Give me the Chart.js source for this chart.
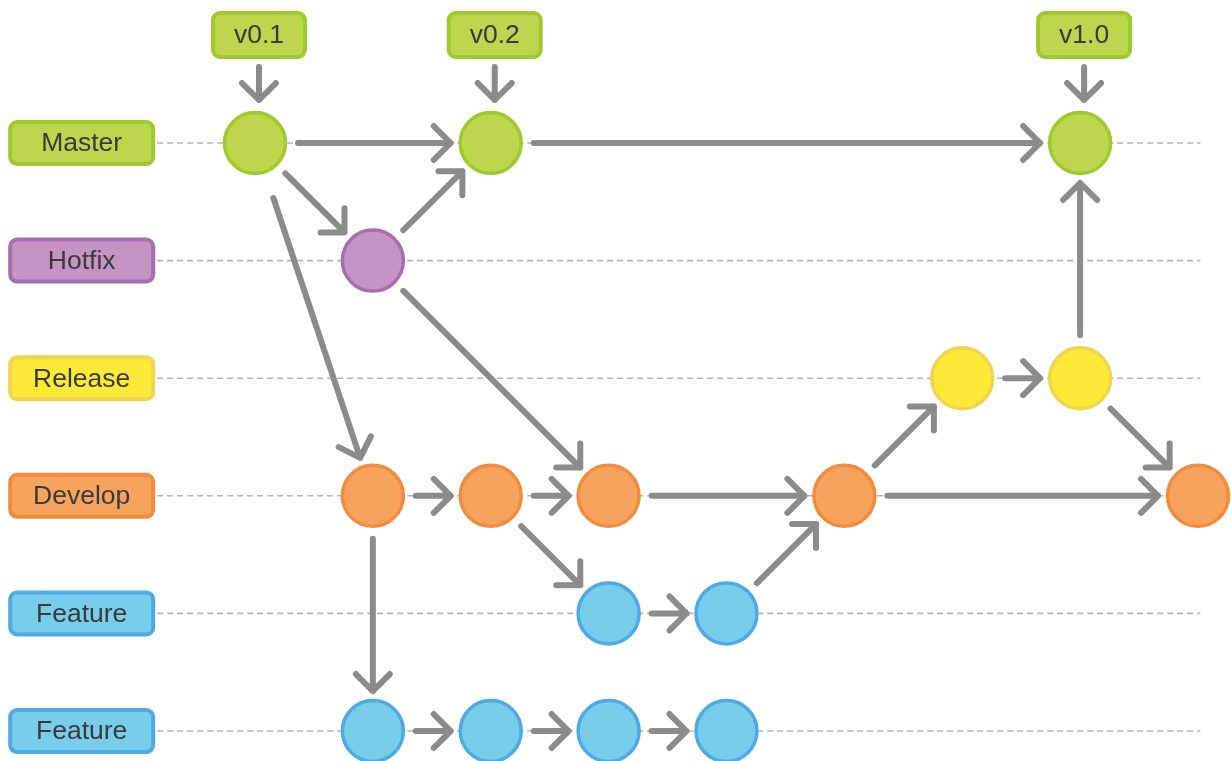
<!DOCTYPE html>
<html>
<head>
<meta charset="utf-8">
<script src="https://cdn.jsdelivr.net/npm/chart.js@4/dist/chart.umd.min.js"></script>
<style>
  html, body { margin: 0; padding: 0; background: #fff; }
  #wrap { width: 1231px; height: 761px; position: relative; }
</style>
</head>
<body>
<div id="wrap"><canvas id="canvas"></canvas></div>
<script>
// branches, one row each (top to bottom)
const branchNames = ['Master', 'Hotfix', 'Release', 'Develop', 'Feature', 'Feature'];
const branchFill = ['#bdd64e', '#c594c5', '#fcea36', '#f7a35d', '#77cdea', '#77cdea'];
const branchBorder = ['#9fc92d', '#a96cae', '#efd552', '#f38b3e', '#4eaae4', '#4eaae4'];

// commit columns per branch
const masterCommits = [0, 2, 7];
const hotfixCommits = [1];
const releaseCommits = [6, 7];
const developCommits = [1, 2, 3, 5, 8];
const featureACommits = [3, 4];
const featureBCommits = [1, 2, 3, 4];
const branchCommits = [masterCommits, hotfixCommits, releaseCommits, developCommits, featureACommits, featureBCommits];

// version tags on master
const tagNames = ['v0.1', 'v0.2', 'v1.0'];
const tagCommits = [0, 2, 7];

// arrows: [fromRow, fromCol, toRow, toCol]
const links = [
    [0, 0, 0, 2], [0, 2, 0, 7], [0, 0, 1, 1], [1, 1, 0, 2],
    [0, 0, 3, 1], [1, 1, 3, 3],
    [3, 1, 3, 2], [3, 2, 3, 3], [3, 3, 3, 5], [3, 5, 3, 8],
    [3, 2, 4, 3], [4, 3, 4, 4], [4, 4, 3, 5],
    [3, 5, 2, 6], [2, 6, 2, 7], [2, 7, 3, 8], [2, 7, 0, 7],
    [3, 1, 5, 1], [5, 1, 5, 2], [5, 2, 5, 3], [5, 3, 5, 4]
];

const ARROW = '#8b8b8b';
const FONT = '26.5px "Liberation Sans", Arial, sans-serif';

function roundBox(ctx, cx, cy, w, h, fill, border, text) {
    ctx.save();
    ctx.beginPath();
    ctx.roundRect(cx - w / 2, cy - h / 2, w, h, 7);
    ctx.fillStyle = fill;
    ctx.fill();
    ctx.lineWidth = 4;
    ctx.strokeStyle = border;
    ctx.stroke();
    ctx.fillStyle = '#3a3a3a';
    ctx.font = FONT;
    ctx.textAlign = 'center';
    ctx.textBaseline = 'middle';
    ctx.fillText(text, cx, cy + 1);
    ctx.restore();
}

function arrow(ctx, x1, y1, x2, y2) {
    const a = Math.atan2(y2 - y1, x2 - x1);
    const head = 24;
    ctx.beginPath();
    ctx.moveTo(x1, y1);
    ctx.lineTo(x2, y2);
    ctx.moveTo(x2 - head * Math.cos(a - Math.PI / 4), y2 - head * Math.sin(a - Math.PI / 4));
    ctx.lineTo(x2, y2);
    ctx.lineTo(x2 - head * Math.cos(a + Math.PI / 4), y2 - head * Math.sin(a + Math.PI / 4));
    ctx.stroke();
}

const flowPlugin = {
    id: 'flow',
    beforeDatasetsDraw(chart) {
        const ctx = chart.ctx;
        const xs = chart.scales.x, ys = chart.scales.y;

        // dashed lane lines
        ctx.save();
        ctx.strokeStyle = '#b5b5b5';
        ctx.lineWidth = 1.6;
        ctx.setLineDash([6, 4]);
        branchNames.forEach((name, r) => {
            const y = ys.getPixelForValue(r);
            ctx.beginPath();
            ctx.moveTo(xs.getPixelForValue(-0.83), y);
            ctx.lineTo(xs.getPixelForValue(8.02), y);
            ctx.stroke();
        });
        ctx.restore();

        // arrows
        ctx.save();
        ctx.strokeStyle = ARROW;
        ctx.lineWidth = 6;
        ctx.lineCap = 'round';
        ctx.lineJoin = 'round';
        links.forEach(l => {
            const x1 = xs.getPixelForValue(l[1]), y1 = ys.getPixelForValue(l[0]);
            const x2 = xs.getPixelForValue(l[3]), y2 = ys.getPixelForValue(l[2]);
            const d = Math.hypot(x2 - x1, y2 - y1);
            const ux = (x2 - x1) / d, uy = (y2 - y1) / d;
            const g1 = (l[0] === 0 && l[2] === 3) ? 58 : 43;
            const g2 = 40;
            arrow(ctx, x1 + ux * g1, y1 + uy * g1, x2 - ux * g2, y2 - uy * g2);
        });

        // tag arrows
        tagCommits.forEach(c => {
            const x = xs.getPixelForValue(c) + 4;
            const y = ys.getPixelForValue(0);
            arrow(ctx, x, y - 76, x, y - 43);
        });
        ctx.restore();

        // branch labels
        branchNames.forEach((name, r) => {
            roundBox(ctx, xs.getPixelForValue(-1.47), ys.getPixelForValue(r), 143, 42,
                branchFill[r], branchBorder[r], name);
        });

        // tags
        tagNames.forEach((t, i) => {
            const x = xs.getPixelForValue(tagCommits[i]) + 4;
            roundBox(ctx, x, ys.getPixelForValue(0) - 108, 92, 44, branchFill[0], branchBorder[0], t);
        });
    }
};

const datasets = branchCommits.map((cols, r) => ({
    label: branchNames[r],
    data: cols.map(c => ({ x: c, y: r })),
    pointRadius: 30.5,
    pointHoverRadius: 30.5,
    pointBorderWidth: 3.5,
    pointHoverBorderWidth: 3.5,
    backgroundColor: branchFill[r],
    borderColor: branchBorder[r],
    showLine: false,
    clip: false
}));

const ctx = document.getElementById('canvas').getContext('2d');
window.myChart = new Chart(ctx, {
    type: 'scatter',
    data: { datasets: datasets },
    options: {
        responsive: true,
        maintainAspectRatio: false,
        animation: false,
        layout: { padding: 0, autoPadding: false },
        plugins: { legend: { display: false }, tooltip: { enabled: false } },
        events: [],
        scales: {
            x: { type: 'linear', min: -2.163, max: 8.280, display: false },
            y: { type: 'linear', min: -1.216, max: 5.255, reverse: true, display: false }
        }
    },
    plugins: [flowPlugin]
});
</script>
</body>
</html>
